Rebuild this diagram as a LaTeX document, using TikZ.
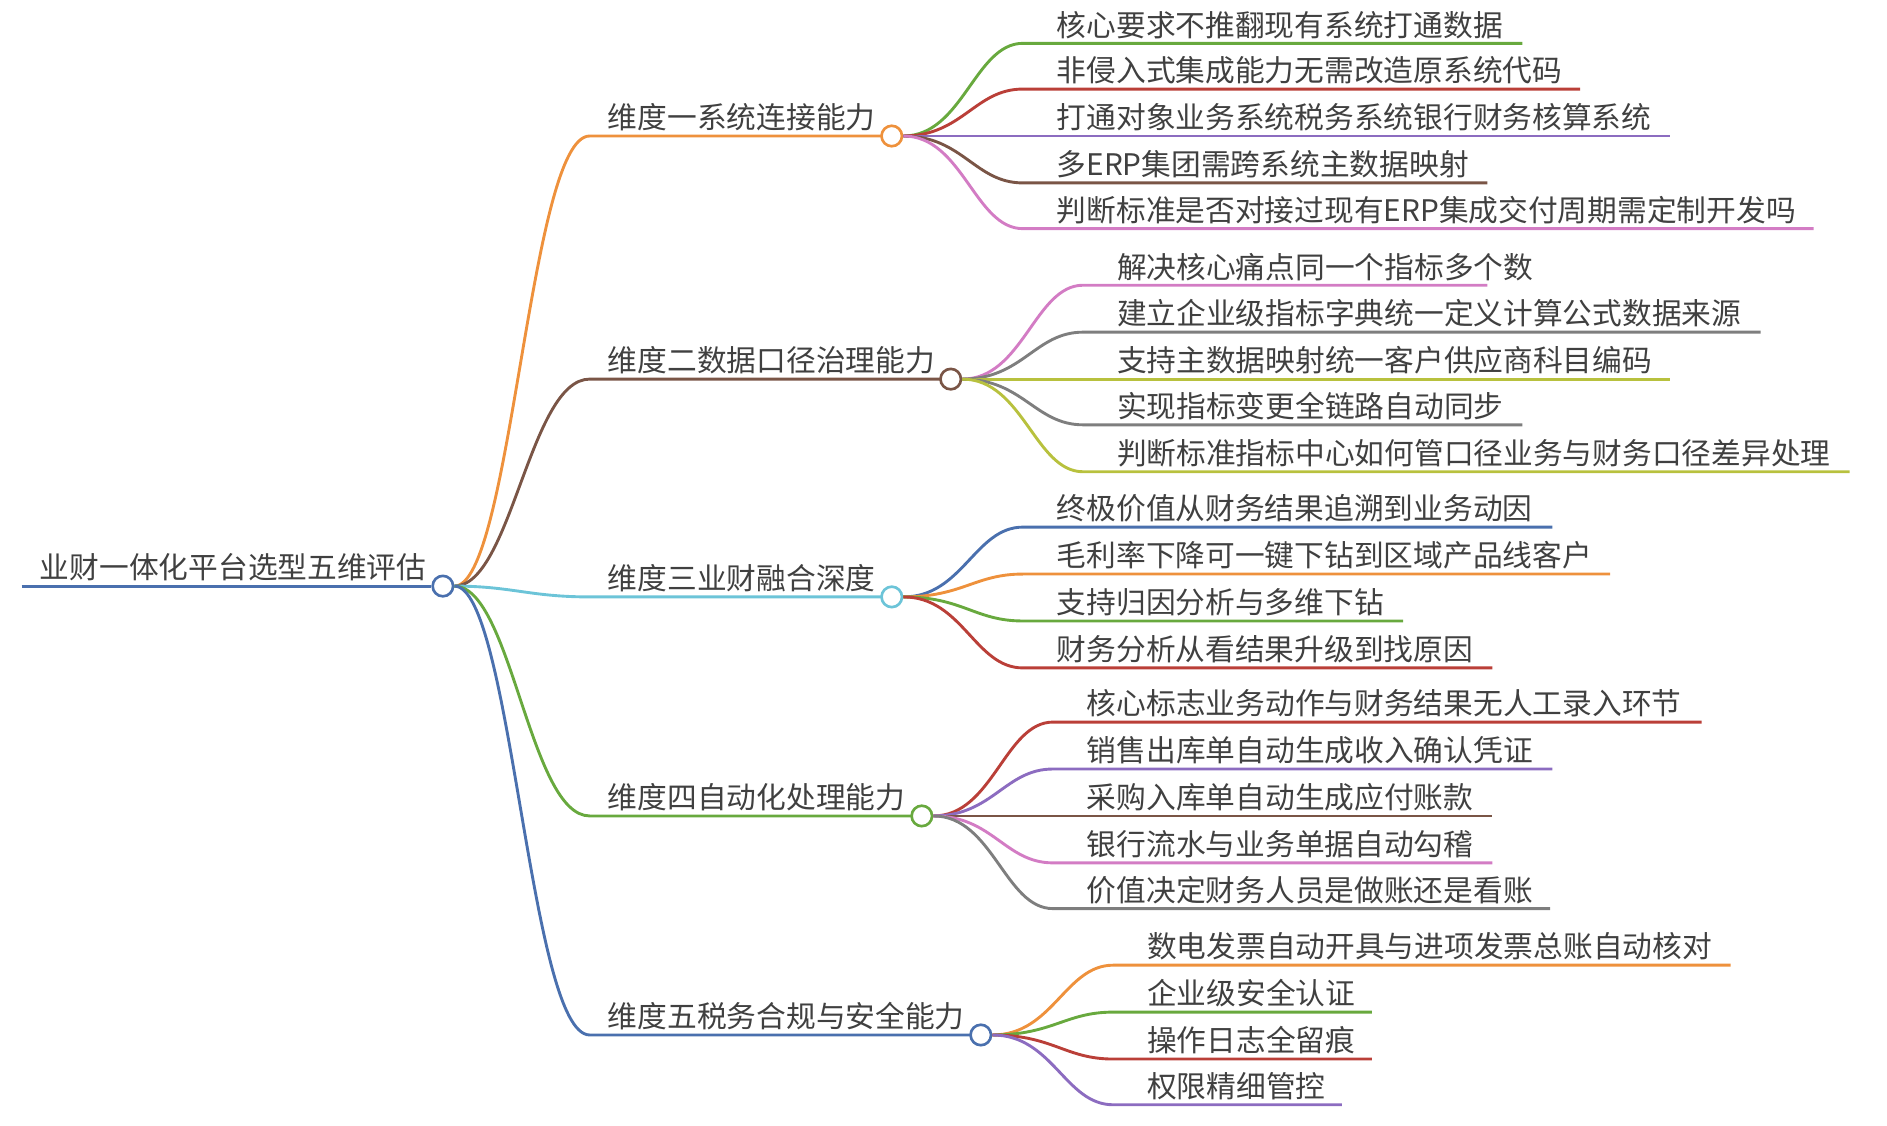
\documentclass[tikz,border=0pt]{standalone}
\usepackage{fontspec}
\setmainfont{Noto Sans CJK SC}
\definecolor{cgreen}{HTML}{68A93E}
\definecolor{corange}{HTML}{EE913C}
\definecolor{cred}{HTML}{BA3F38}
\definecolor{cpurple}{HTML}{8C6CC0}
\definecolor{cbrown}{HTML}{7A5546}
\definecolor{cpink}{HTML}{D37CC4}
\definecolor{cgray}{HTML}{7E7E7E}
\definecolor{colive}{HTML}{B8C13E}
\definecolor{cblue}{HTML}{4A70AE}
\definecolor{ccyan}{HTML}{6CC4D8}
\tikzset{
  hub/.style={circle, draw=#1, fill=white, line width=2.2pt, minimum size=17pt, inner sep=0pt},
  lbl/.style={anchor=base west, inner sep=0pt, text=black!75, font=\fontsize{24.7}{29}\selectfont},
  edge/.style={line width=2.4pt}
}
\begin{document}
\begin{tikzpicture}[x=1pt,y=-1pt]
\useasboundingbox (0,0) rectangle (1568,935);

% root
\coordinate (r0) at (18,487);
\node[hub=cblue] (root) at (368,487) {};
\draw[edge, cblue] (r0) -- (root.west);
\node[lbl] at (33,481) {业财一体化平台选型五维评估};

% branches
\foreach \n/\x/\y/\c/\t in {
  b1/741/113/corange/维度一系统连接能力,
  b2/790/315/cbrown/维度二数据口径治理能力,
  b3/741/496/ccyan/维度三业财融合深度,
  b4/766/678/cgreen/维度四自动化处理能力,
  b5/815/860/cblue/维度五税务合规与安全能力}{
  \coordinate (\n s) at (490,\y);
  \draw[edge, \c] (root.east) .. controls (425,487) and (440,\y) .. (\n s) -- (\x-9,\y);
  \node[hub=\c] (\n) at (\x,\y) {};
  \node[lbl] at (505,\y-6) {\t};
}

% leaves
\foreach \y/\e/\c/\t in {
  36/1265/cgreen/核心要求不推翻现有系统打通数据,
  74/1313/cred/非侵入式集成能力无需改造原系统代码,
  113/1388/cpurple/打通对象业务系统税务系统银行财务核算系统,
  152/1236/cbrown/多ERP集团需跨系统主数据映射,
  190/1507/cpink/判断标准是否对接过现有ERP集成交付周期需定制开发吗}{
  \coordinate (l) at (850,\y);
  \draw[edge, \c] (b1.east) .. controls (800,113) and (810,\y) .. (l) -- (\e,\y);
  \node[lbl] at (878,\y-6) {\t};
}
\foreach \y/\e/\c/\t in {
  237/1236/cpink/解决核心痛点同一个指标多个数,
  276/1463/cgray/建立企业级指标字典统一定义计算公式数据来源,
  315/1388/colive/支持主数据映射统一客户供应商科目编码,
  353/1265/cgray/实现指标变更全链路自动同步,
  392/1537/colive/判断标准指标中心如何管口径业务与财务口径差异处理}{
  \coordinate (l) at (900,\y);
  \draw[edge, \c] (b2.east) .. controls (850,315) and (860,\y) .. (l) -- (\e,\y);
  \node[lbl] at (928,\y-6) {\t};
}
\foreach \y/\e/\c/\t in {
  438/1290/cblue/终极价值从财务结果追溯到业务动因,
  477/1338/corange/毛利率下降可一键下钻到区域产品线客户,
  516/1166/cgreen/支持归因分析与多维下钻,
  555/1240/cred/财务分析从看结果升级到找原因}{
  \coordinate (l) at (850,\y);
  \draw[edge, \c] (b3.east) .. controls (800,496) and (810,\y) .. (l) -- (\e,\y);
  \node[lbl] at (878,\y-6) {\t};
}
\foreach \y/\e/\c/\t in {
  600/1414/cred/核心标志业务动作与财务结果无人工录入环节,
  639/1290/cpurple/销售出库单自动生成收入确认凭证,
  678/1240/cbrown/采购入库单自动生成应付账款,
  717/1240/cpink/银行流水与业务单据自动勾稽,
  755/1288/cgray/价值决定财务人员是做账还是看账}{
  \coordinate (l) at (875,\y);
  \draw[edge, \c] (b4.east) .. controls (825,678) and (835,\y) .. (l) -- (\e,\y);
  \node[lbl] at (903,\y-6) {\t};
}
\foreach \y/\e/\c/\t in {
  802/1438/corange/数电发票自动开具与进项发票总账自动核对,
  841/1140/cgreen/企业级安全认证,
  880/1140/cred/操作日志全留痕,
  918/1115/cpurple/权限精细管控}{
  \coordinate (l) at (925,\y);
  \draw[edge, \c] (b5.east) .. controls (875,860) and (885,\y) .. (l) -- (\e,\y);
  \node[lbl] at (953,\y-6) {\t};
}
\end{tikzpicture}
\end{document}
